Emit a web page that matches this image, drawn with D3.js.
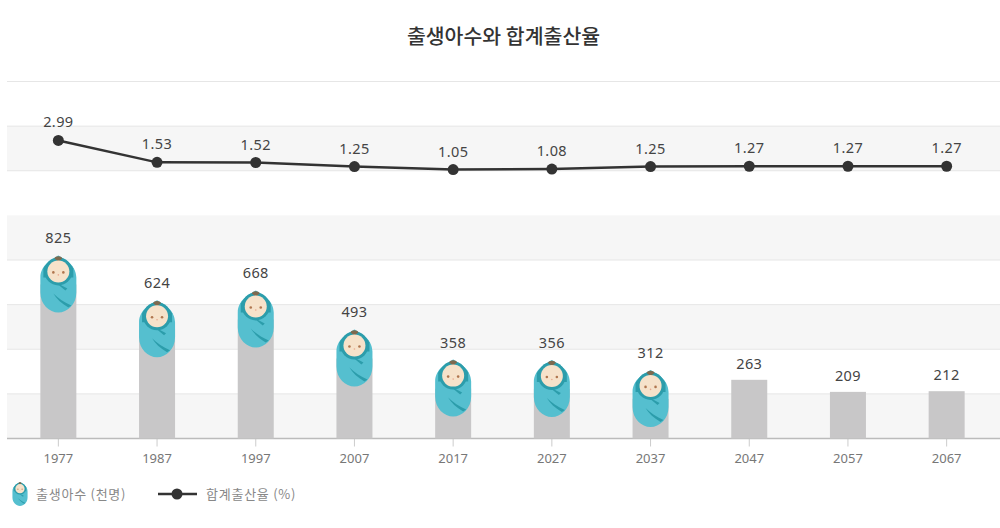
<!DOCTYPE html>
<html>
<head>
  <meta charset="UTF-8">
  <style>
    html, body { margin: 0; padding: 0; background: #fff; }
    svg { display: block; }
    text { font-family: "Noto Sans CJK KR", "Noto Sans", sans-serif; }
    .num { font-family: "Noto Sans", sans-serif; font-size: 14.5px; fill: #444; letter-spacing: 0.4px; }
    .tick text { font-family: "Noto Sans", sans-serif; font-size: 13px; fill: #777; }
    .legend text { font-size: 13px; fill: #888; letter-spacing: 0.75px; }
  </style>
</head>
<body>
<svg></svg>
<script src="https://d3js.org/d3.v7.min.js"></script>

<script>

let width = 1000, height = 528;

// values
const years = ["1977", "1987", "1997", "2007", "2017", "2027", "2037", "2047", "2057", "2067"];
const births = [825, 624, 668, 493, 358, 356, 312, 263, 209, 212];
const fertility = [2.99, 1.53, 1.52, 1.25, 1.05, 1.08, 1.25, 1.27, 1.27, 1.27];
// only these years get the baby on top of the bar
const babyYears = ["1977", "1987", "1997", "2007", "2017", "2027", "2037"];
const gridSteps = [0, 200, 400, 600, 800, 1000, 1200, 1400, 1600];

const title = "출생아수와 합계출산율";
const legendBirths = "출생아수 (천명)";
const legendRate = "합계출산율 (%)";

let svg = d3.select("svg")
    .attr("width", width)
    .attr("height", height)
    .attr("viewBox", "0 0 " + width + " " + height);

// same pixels per unit for all the grid, bars start at the baseline
let x = d3.scaleBand().domain(years).range([9, 996]);
let y = d3.scaleLinear().domain([0, 1600]).range([438.5, 81.5]);
let yRate = d3.scaleLinear().domain([0, 3]).range([185.3, 140.3]);

const barWidth = 36;
const babyHide = 30; // the part of a bar hidden behind the baby
const left = 7, right = 1000;

// baby drawn in a 36x57 box, top centre at 0,0
let defs = svg.append("defs");
let baby = defs.append("g").attr("id", "baby");
baby.append("path")
    .attr("d", "M0,0 C5,3 18,9 18,22 L18,37 C18,49 9,57 0,57 C-9,57 -18,49 -18,37 L-18,22 C-18,9 -5,3 0,0 Z")
    .attr("fill", "#55bfcf");
baby.append("path")
    .attr("d", "M0,1 C4,3 12,7 15,13 L15,22 L-15,22 L-15,13 C-12,7 -4,3 0,1 Z")
    .attr("fill", "#2c9dab");
baby.append("circle").attr("cx", 0).attr("cy", 16).attr("r", 14).attr("fill", "#2c9dab");
baby.append("path")
    .attr("d", "M-4,26 L9,33 L7,35 Z")
    .attr("fill", "#2c9dab");
baby.append("path")
    .attr("d", "M-5,38 C0,43 6,47 13,50 L10,52 C3,48 -2,43 -5,38 Z")
    .attr("fill", "#2c9dab");
baby.append("path")
    .attr("d", "M-4,3 C-3,0 3,0 4,3 L0,6 Z")
    .attr("fill", "#7d6a4f");
baby.append("circle").attr("cx", 0).attr("cy", 16).attr("r", 11).attr("fill", "#f6e2ca");
baby.append("circle").attr("cx", -5).attr("cy", 17).attr("r", 1.3).attr("fill", "#b0764f");
baby.append("circle").attr("cx", 5).attr("cy", 17).attr("r", 1.3).attr("fill", "#b0764f");
baby.append("circle").attr("cx", 0).attr("cy", 19.5).attr("r", 0.8).attr("fill", "#e9a98f");

// alternating bands and grid lines
svg.append("g")
    .selectAll("rect")
    .data(gridSteps.slice(0, -1).filter((d, i) => i % 2 == 0))
    .enter()
    .append("rect")
    .attr("x", left)
    .attr("width", right - left)
    .attr("y", d => y(d + 200))
    .attr("height", d => y(d) - y(d + 200))
    .attr("fill", "#f6f6f6");

svg.append("g")
    .selectAll("line")
    .data(gridSteps.slice(1))
    .enter()
    .append("line")
    .attr("x1", left)
    .attr("x2", right)
    .attr("y1", d => y(d))
    .attr("y2", d => y(d))
    .attr("stroke", d => d == 1000 ? "none" : "#e6e6e6")
    .attr("stroke-width", 1);

// x axis
let xAxis = svg.append("g")
    .attr("transform", "translate(0," + y(0) + ")")
    .call(d3.axisBottom(x).tickSize(8).tickPadding(7));
xAxis.select(".domain").remove();
xAxis.selectAll(".tick line").attr("stroke", "#ccc");

svg.append("line")
    .attr("x1", left)
    .attr("x2", right)
    .attr("y1", y(0))
    .attr("y2", y(0))
    .attr("stroke", "#bbb")
    .attr("stroke-width", 1.5);

// bars
let center = d => x(d) + x.bandwidth() / 2;
let barTop = (d, i) => y(d) + (babyYears.includes(years[i]) ? babyHide : 0);

svg.append("g")
    .selectAll("rect")
    .data(births)
    .enter()
    .append("rect")
    .attr("x", (d, i) => center(years[i]) - barWidth / 2)
    .attr("y", barTop)
    .attr("width", barWidth)
    .attr("height", (d, i) => y(0) - barTop(d, i))
    .attr("fill", "#c8c7c8");

svg.append("g")
    .selectAll("use")
    .data(babyYears)
    .enter()
    .append("use")
    .attr("href", "#baby")
    .attr("transform", d => "translate(" + center(d) + "," + (y(births[years.indexOf(d)]) + 1) + ")");

svg.append("g")
    .selectAll("text")
    .data(births)
    .enter()
    .append("text")
    .attr("class", "num")
    .attr("text-anchor", "middle")
    .attr("x", (d, i) => center(years[i]))
    .attr("y", d => y(d) - 11)
    .text(d => d);

// fertility line
let line = d3.line()
    .x((d, i) => center(years[i]))
    .y(d => yRate(d));

svg.append("path")
    .datum(fertility)
    .attr("d", line)
    .attr("fill", "none")
    .attr("stroke", "#333")
    .attr("stroke-width", 2.5);

svg.append("g")
    .selectAll("circle")
    .data(fertility)
    .enter()
    .append("circle")
    .attr("cx", (d, i) => center(years[i]))
    .attr("cy", d => yRate(d))
    .attr("r", 5.5)
    .attr("fill", "#333");

svg.append("g")
    .selectAll("text")
    .data(fertility)
    .enter()
    .append("text")
    .attr("class", "num")
    .attr("text-anchor", "middle")
    .attr("x", (d, i) => center(years[i]))
    .attr("y", d => yRate(d) - 13)
    .text(d => d.toFixed(2));

// title
svg.append("text")
    .attr("x", 503.5)
    .attr("y", 44)
    .attr("text-anchor", "middle")
    .attr("font-size", 20.5)
    .attr("font-weight", 500)
    .attr("fill", "#333")
    .text(title);

// legend
let legend = svg.append("g").attr("class", "legend");
legend.append("use")
    .attr("href", "#baby")
    .attr("transform", "translate(20,482) scale(0.42)");
legend.append("text").attr("x", 36).attr("y", 499).text(legendBirths);
legend.append("line")
    .attr("x1", 158).attr("x2", 197)
    .attr("y1", 494).attr("y2", 494)
    .attr("stroke", "#333").attr("stroke-width", 2.5);
legend.append("circle").attr("cx", 177).attr("cy", 494).attr("r", 5.5).attr("fill", "#333");
legend.append("text").attr("x", 206).attr("y", 499).text(legendRate);

</script>

</body>
</html>
